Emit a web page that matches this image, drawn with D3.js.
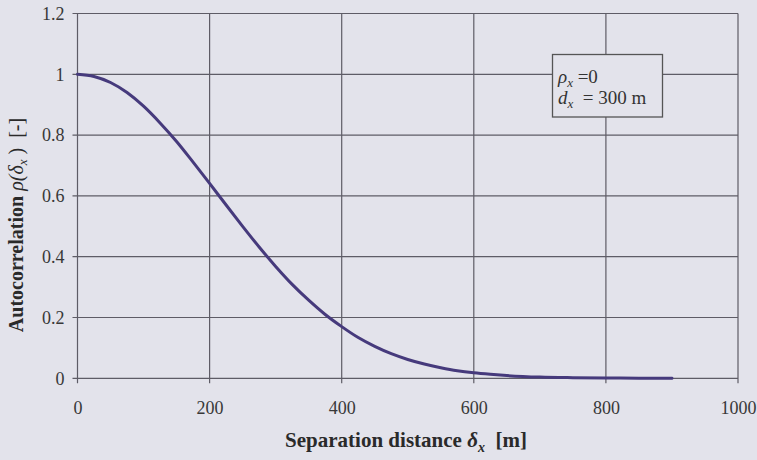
<!DOCTYPE html>
<html><head><meta charset="utf-8">
<script src="https://cdn.jsdelivr.net/npm/d3@7"></script>
<style>
html,body{margin:0;padding:0;background:#e3e3eb;}
svg{display:block;}
</style></head>
<body>
<svg id="c" width="757" height="460"></svg>
<script>
// Data
const distances = [0,25,50,75,100,125,150,175,200,225,250,275,300,325,350,375,400,425,450,475,500,525,550,575,600,625,650,700,750,800,850,900];
const rho = [1.0,0.993,0.973,0.940,0.895,0.840,0.779,0.711,0.641,0.570,0.500,0.432,0.368,0.309,0.257,0.210,0.170,0.134,0.105,0.081,0.062,0.047,0.035,0.025,0.018,0.013,0.009,0.004,0.002,0.001,0.0003,0.0001];
const xTicks = [0,200,400,600,800,1000];
const yTicks = [0,0.2,0.4,0.6,0.8,1,1.2];
const yTickLabels = ["0","0.2","0.4","0.6","0.8","1","1.2"];

const svg = d3.select("#c");
const L = 77.5, R = 738, T = 13.5, B = 378.3;
const x = d3.scaleLinear().domain([0,1000]).range([L,R]);
const y = d3.scaleLinear().domain([0,1.2]).range([B,T]);
const grid = "#5e5c66";
const serif = "'Liberation Serif','Times New Roman',serif";

// gridlines
svg.append("g").selectAll("line").data(yTicks).join("line")
  .attr("x1",L-5).attr("x2",R).attr("y1",d=>y(d)).attr("y2",d=>y(d))
  .attr("stroke",grid).attr("stroke-width",1.2);
svg.append("g").selectAll("line").data(xTicks).join("line")
  .attr("x1",d=>x(d)).attr("x2",d=>x(d)).attr("y1",T).attr("y2",B+5)
  .attr("stroke",grid).attr("stroke-width",1.2);

// tick labels via d3 axes (lines hidden)
const yAxis = svg.append("g").attr("transform",`translate(${L-13},0)`)
  .call(d3.axisLeft(y).tickValues(yTicks).tickFormat((d,i)=>yTickLabels[i]).tickSize(0).tickPadding(0));
yAxis.select(".domain").remove();
yAxis.selectAll("text").attr("font-family",serif).attr("font-size",18).attr("fill","#383838");

const xAxis = svg.append("g").attr("transform",`translate(0,${B+23})`)
  .call(d3.axisBottom(x).tickValues(xTicks).tickFormat(d3.format("d")).tickSize(0).tickPadding(0));
xAxis.select(".domain").remove();
xAxis.selectAll("text").attr("font-family",serif).attr("font-size",18).attr("fill","#383838");

// curve
const line = d3.line().x((d,i)=>x(distances[i])).y(d=>y(d)).curve(d3.curveMonotoneX);
svg.append("path").datum(rho).attr("d",line).attr("fill","none")
  .attr("stroke","#463a7c").attr("stroke-width",3).attr("stroke-linecap","round");

// legend box
const lg = svg.append("g");
lg.append("rect").attr("x",552.5).attr("y",54.5).attr("width",110).attr("height",62.5)
  .attr("fill","#e3e3eb").attr("stroke","#555").attr("stroke-width",1.3);
const t1 = lg.append("text").attr("x",558).attr("y",83).attr("font-family",serif).attr("font-size",19).attr("fill","#333")
  .attr("xml:space","preserve");
t1.append("tspan").attr("font-style","italic").text("ρ");
t1.append("tspan").attr("font-style","italic").attr("font-size",13).attr("dy",4).text("x");
t1.append("tspan").attr("dy",-4).text(" =0");
const t2 = lg.append("text").attr("x",558).attr("y",104).attr("font-family",serif).attr("font-size",19).attr("fill","#333")
  .attr("xml:space","preserve");
t2.append("tspan").attr("font-style","italic").text("d");
t2.append("tspan").attr("font-style","italic").attr("font-size",13).attr("dy",4).text("x");
t2.append("tspan").attr("dy",-4).text("  = 300 m");

// x title
const xt = svg.append("text").attr("x",406).attr("y",447).attr("text-anchor","middle")
  .attr("font-family",serif).attr("font-size",21).attr("font-weight","bold").attr("fill","#2a2a2a")
  .attr("xml:space","preserve");
xt.append("tspan").text("Separation distance ");
xt.append("tspan").attr("font-style","italic").text("δ");
xt.append("tspan").attr("font-style","italic").attr("font-size",14).attr("dy",5).text("x");
xt.append("tspan").attr("dy",-5).text("  [m]");

// y title
const yt = svg.append("text").attr("transform","translate(23,225) rotate(-90)").attr("text-anchor","middle")
  .attr("font-family",serif).attr("font-size",20).attr("font-weight","bold").attr("fill","#2a2a2a")
  .attr("xml:space","preserve");
yt.append("tspan").text("Autocorrelation ");
yt.append("tspan").attr("font-style","italic").attr("font-weight","normal").text("ρ(δ");
yt.append("tspan").attr("font-style","italic").attr("font-weight","normal").attr("font-size",13).attr("dy",4).text("x");
yt.append("tspan").attr("font-weight","normal").attr("dy",-4).text(" )  [-]");
</script>
</body></html>
